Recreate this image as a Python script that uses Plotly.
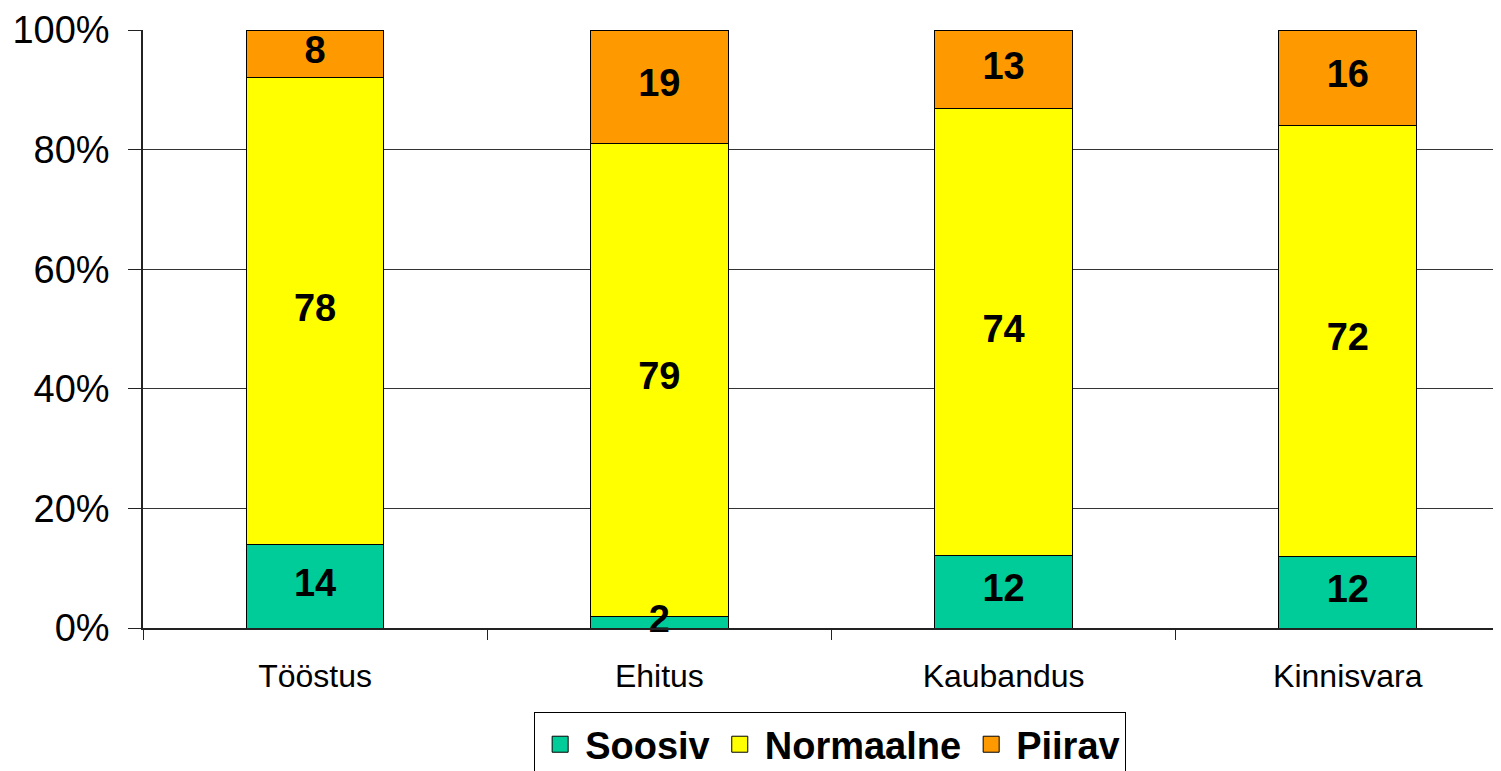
import plotly.graph_objects as go

categories = ["Tööstus", "Ehitus", "Kaubandus", "Kinnisvara"]
soosiv = [14, 2, 12, 12]
normaalne = [78, 79, 74, 72]
piirav = [8, 19, 13, 16]
y_ticks = [0, 20, 40, 60, 80, 100]
y_tick_labels = ["0%", "20%", "40%", "60%", "80%", "100%"]

series = [
    ("Soosiv", soosiv, "#00CC99"),
    ("Normaalne", normaalne, "#FFFF00"),
    ("Piirav", piirav, "#FF9900"),
]

totals = [sum(v) for v in zip(soosiv, normaalne, piirav)]

fig = go.Figure()
for name, vals, color in series:
    fig.add_trace(go.Bar(
        name=name, x=categories, y=vals,
        marker=dict(color=color, line=dict(color="#000000", width=1)),
        width=0.4, showlegend=False,
        hoverinfo="skip",
    ))

# legend entries with larger square symbols
for name, vals, color in series:
    fig.add_trace(go.Scatter(
        name=name, x=[categories[0]], y=[None], mode="markers",
        marker=dict(symbol="square", size=16, color=color,
                    line=dict(color="#000000", width=1)),
        showlegend=True, hoverinfo="skip",
    ))

# data labels at segment centres (normalised to 100%)
base = [0.0] * len(categories)
lab_x, lab_y, lab_t = [], [], []
for name, vals, color in series:
    for i, v in enumerate(vals):
        pct = v / totals[i] * 100
        lab_x.append(categories[i])
        lab_y.append(base[i] + pct / 2)
        lab_t.append(str(v))
        base[i] += pct
fig.add_trace(go.Scatter(
    x=lab_x, y=lab_y, text=lab_t, mode="text",
    textfont=dict(family="Liberation Sans", size=38, color="#000000", weight="bold"),
    showlegend=False, cliponaxis=False, hoverinfo="skip",
))

# page body has an 8px default margin, so the figure is offset by 8px
fig.update_layout(
    barmode="stack", barnorm="percent",
    width=1493, height=763,
    margin=dict(l=135, r=0, t=22, b=143, autoexpand=False),
    paper_bgcolor="white", plot_bgcolor="white",
    font=dict(family="Liberation Sans", color="#000000"),
    showlegend=True,
    legend=dict(
        orientation="h", x=0.506, xanchor="center", y=-0.1405, yanchor="top",
        bordercolor="#000000", borderwidth=1, traceorder="normal",
        font=dict(family="Liberation Sans", size=38, color="#000000", weight="bold"),
        itemsizing="trace", itemwidth=40,
    ),
    xaxis=dict(
        type="category", range=[-0.5, 3.445],
        tickson="boundaries", ticks="outside", ticklen=10, tickcolor="#222222",
        showline=True, linecolor="#222222", linewidth=1.5,
        showgrid=False, automargin=False,
        tickfont=dict(family="Liberation Sans", size=32, color="#000000"),
        ticklabelstandoff=19,
    ),
    yaxis=dict(
        range=[0, 100], tickvals=y_ticks, ticktext=y_tick_labels,
        ticks="outside", ticklen=13, tickcolor="#222222",
        showline=True, linecolor="#222222", linewidth=1.5,
        showgrid=True, gridcolor="#333333", gridwidth=1,
        zeroline=False, automargin=False,
        tickfont=dict(family="Liberation Sans", size=38, color="#000000"),
        ticklabelstandoff=11,
    ),
)

fig.write_html("out.html")
